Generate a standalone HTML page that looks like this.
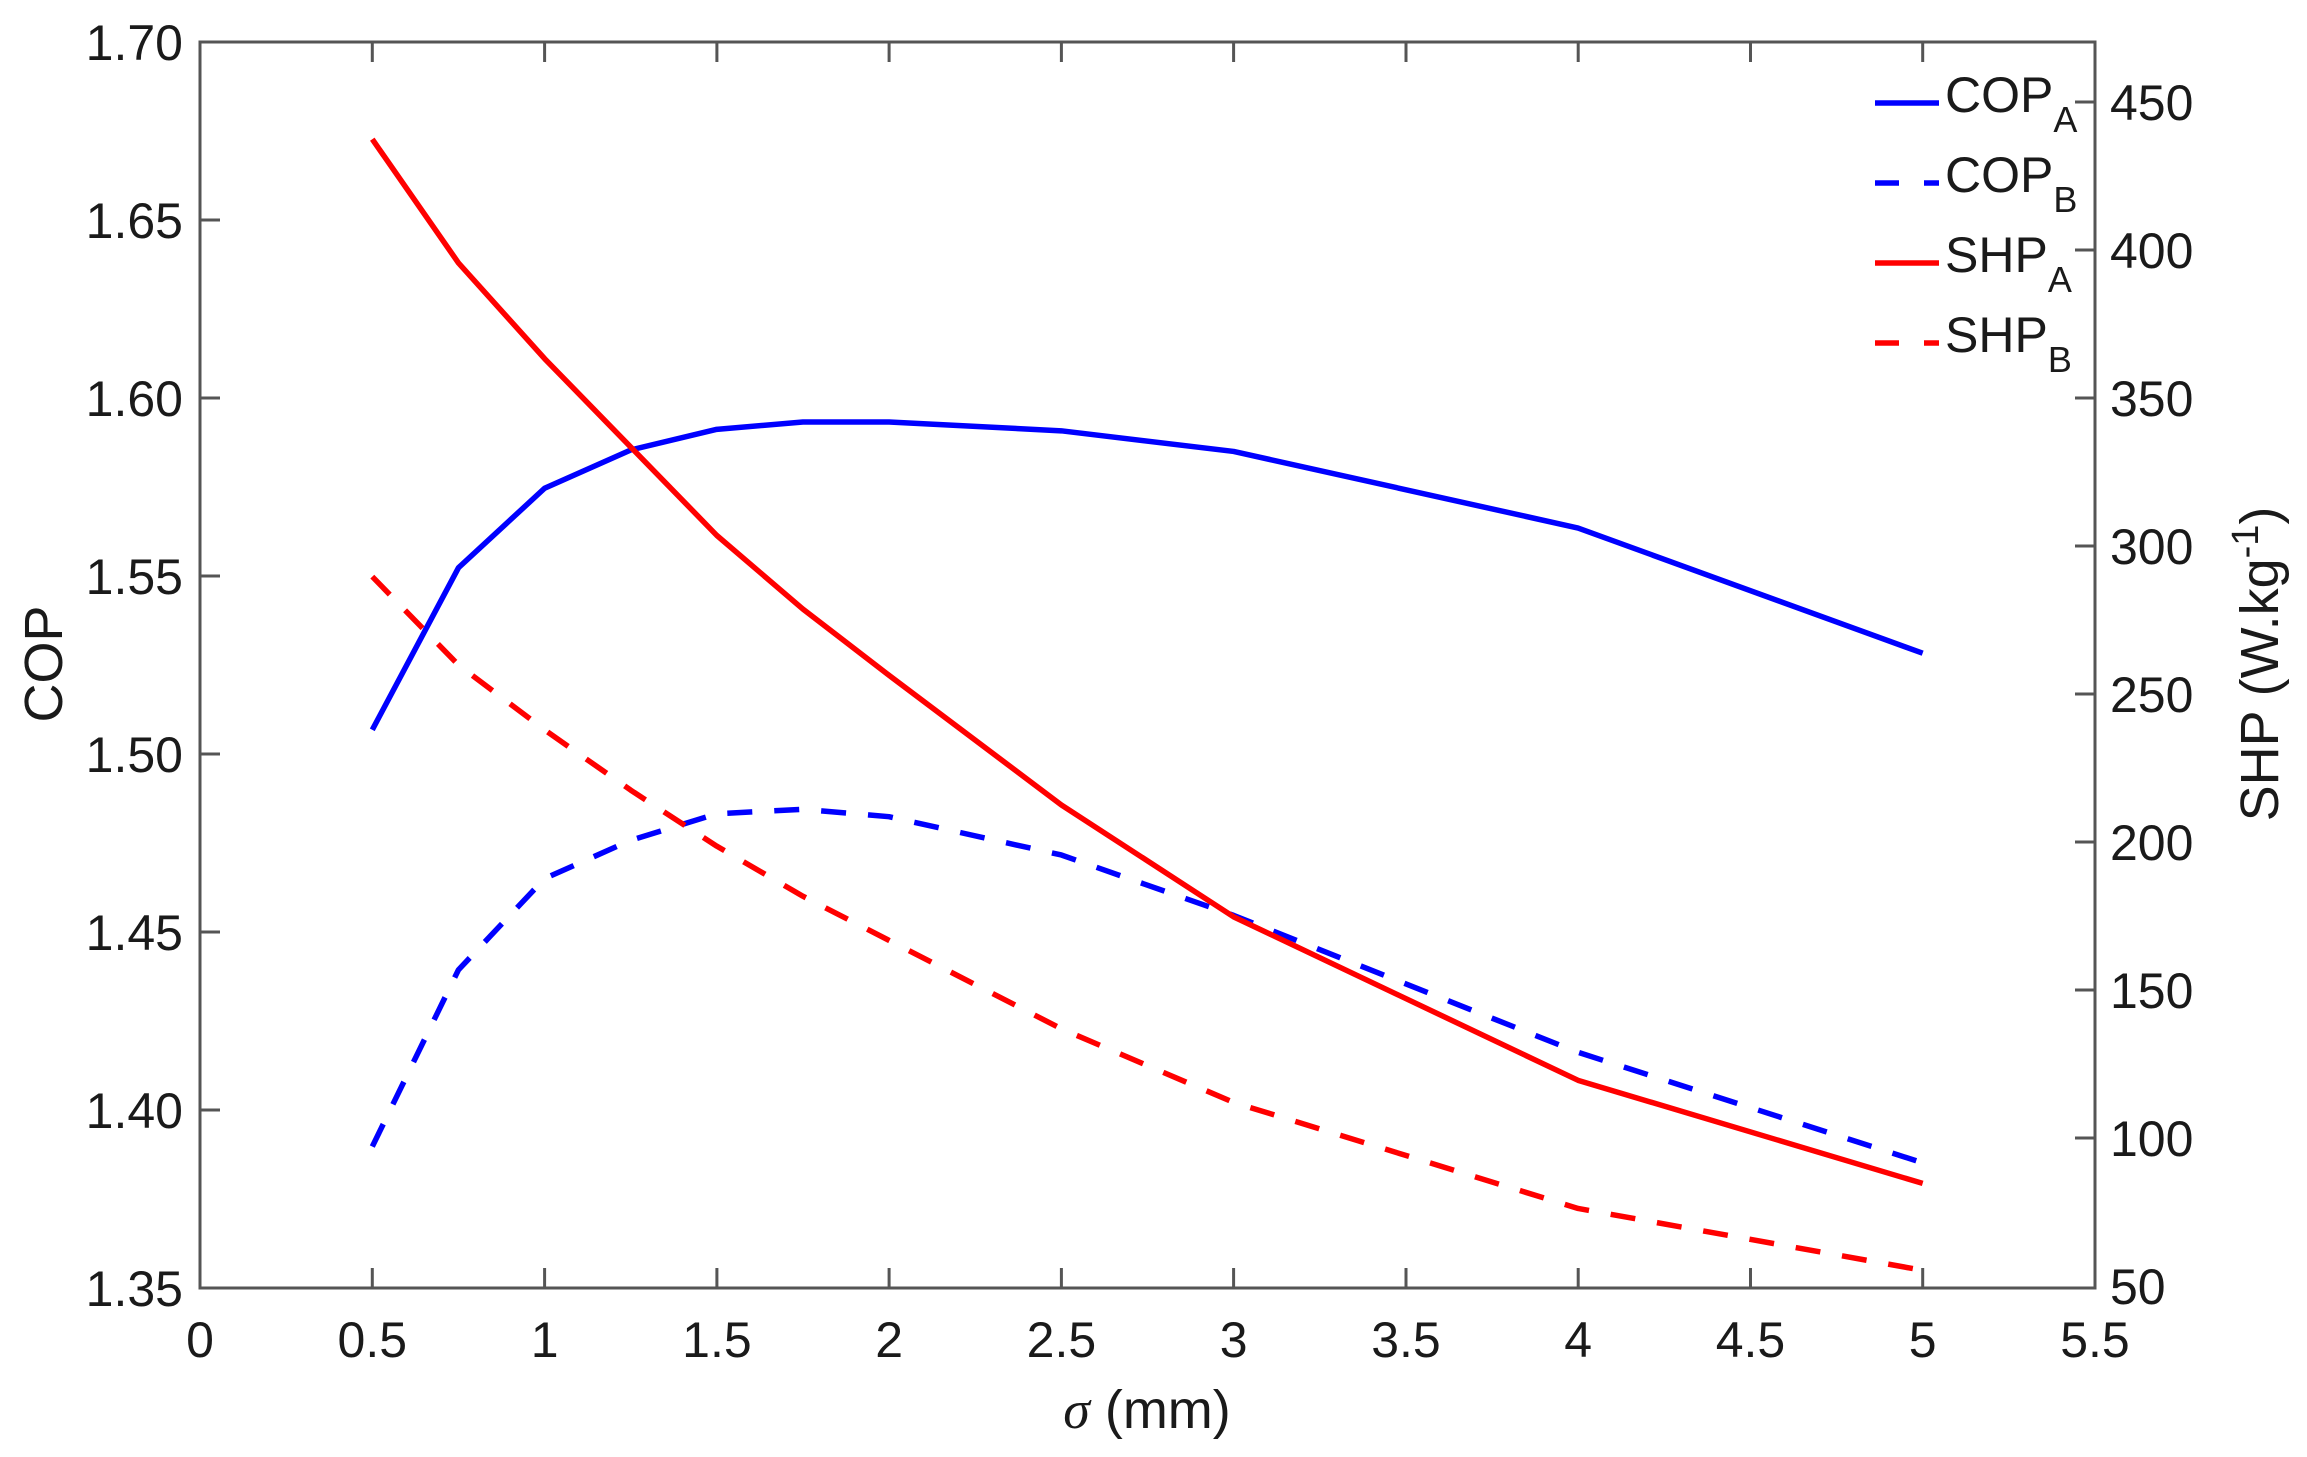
<!DOCTYPE html>
<html><head><style>body{margin:0;background:#fff}svg{display:block}text{font-family:"Liberation Sans",sans-serif;fill:#1a1a1a}</style></head>
<body>
<svg width="2307" height="1457" viewBox="0 0 2307 1457" xmlns="http://www.w3.org/2000/svg">
<g transform="translate(200,42) scale(1.4701,1.4728) translate(-136,-30)" fill="none" stroke-width="5.5" stroke-linejoin="round">
<polyline stroke="#0000ff" vector-effect="non-scaling-stroke" points="253.2,497 311.8,387 370.4,333 429,307 487.5,293 546.1,288 604.7,288 721.9,294 839.1,308 1073.4,360 1307.8,445"/>
<polyline stroke="#0000ff" stroke-dasharray="25 22" vector-effect="non-scaling-stroke" points="253.2,780 311.8,660 370.4,598 429,572 487.5,554 546.1,551 604.7,556 721.9,582 839.1,623 1073.4,716 1307.8,791"/>
<polyline stroke="#ff0000" vector-effect="non-scaling-stroke" points="253.2,96 311.8,180 370.4,245 429,305 487.5,365 546.1,415 604.7,460 721.9,548 839.1,624 1073.4,735 1307.8,805"/>
<polyline stroke="#ff0000" stroke-dasharray="25 22" vector-effect="non-scaling-stroke" points="253.2,393 311.8,453 370.4,497 429,538 487.5,576 546.1,610 604.7,640 721.9,700 839.1,750 1073.4,822 1307.8,864"/>
</g>
<g stroke="#555" stroke-width="3" fill="none">
<rect x="200" y="42" width="1895" height="1246"/>
<path d="M372.3,1288v-20M544.6,1288v-20M716.9,1288v-20M889.1,1288v-20M1061.4,1288v-20M1233.6,1288v-20M1406,1288v-20M1578.2,1288v-20M1750.5,1288v-20M1922.7,1288v-20
M372.3,42v20M544.6,42v20M716.9,42v20M889.1,42v20M1061.4,42v20M1233.6,42v20M1406,42v20M1578.2,42v20M1750.5,42v20M1922.7,42v20
M200,220h20M200,398h20M200,576h20M200,754h20M200,932h20M200,1110h20
M2095,102h-20M2095,250h-20M2095,398h-20M2095,546h-20M2095,694h-20M2095,842h-20M2095,990h-20M2095,1138h-20"/>
</g>
<g font-size="50" text-anchor="end">
<text x="183" y="60">1.70</text><text x="183" y="238">1.65</text><text x="183" y="416">1.60</text><text x="183" y="594">1.55</text><text x="183" y="772">1.50</text><text x="183" y="950">1.45</text><text x="183" y="1128">1.40</text><text x="183" y="1306">1.35</text>
</g>
<g font-size="50" text-anchor="start">
<text x="2110" y="120">450</text><text x="2110" y="268">400</text><text x="2110" y="416">350</text><text x="2110" y="564">300</text><text x="2110" y="712">250</text><text x="2110" y="860">200</text><text x="2110" y="1008">150</text><text x="2110" y="1156">100</text><text x="2110" y="1304">50</text>
</g>
<g font-size="50" text-anchor="middle">
<text x="200" y="1357">0</text><text x="372.3" y="1357">0.5</text><text x="544.6" y="1357">1</text><text x="716.9" y="1357">1.5</text><text x="889.1" y="1357">2</text><text x="1061.4" y="1357">2.5</text><text x="1233.6" y="1357">3</text><text x="1406" y="1357">3.5</text><text x="1578.2" y="1357">4</text><text x="1750.5" y="1357">4.5</text><text x="1922.7" y="1357">5</text><text x="2095" y="1357">5.5</text>
<text x="1147" y="1428" font-size="54"><tspan font-style="italic" font-family="Liberation Serif">σ</tspan> (mm)</text>
<text transform="translate(62,664) rotate(-90)" font-size="54">COP</text>
<text transform="translate(2278,664) rotate(-90)" font-size="54">SHP (W.kg<tspan dy="-20" font-size="38">-1</tspan><tspan dy="20">)</tspan></text>
</g>
<g stroke-width="5.5">
<path d="M1875,103h64" stroke="#0000ff"/>
<path d="M1875,183h24M1924,183h15" stroke="#0000ff"/>
<path d="M1875,263h64" stroke="#ff0000"/>
<path d="M1875,343h24M1924,343h15" stroke="#ff0000"/>
</g>
<g font-size="50">
<text x="1945" y="112">COP<tspan dy="20" font-size="36">A</tspan></text>
<text x="1945" y="192">COP<tspan dy="20" font-size="36">B</tspan></text>
<text x="1945" y="272">SHP<tspan dy="20" font-size="36">A</tspan></text>
<text x="1945" y="352">SHP<tspan dy="20" font-size="36">B</tspan></text>
</g>
</svg>
</body></html>
